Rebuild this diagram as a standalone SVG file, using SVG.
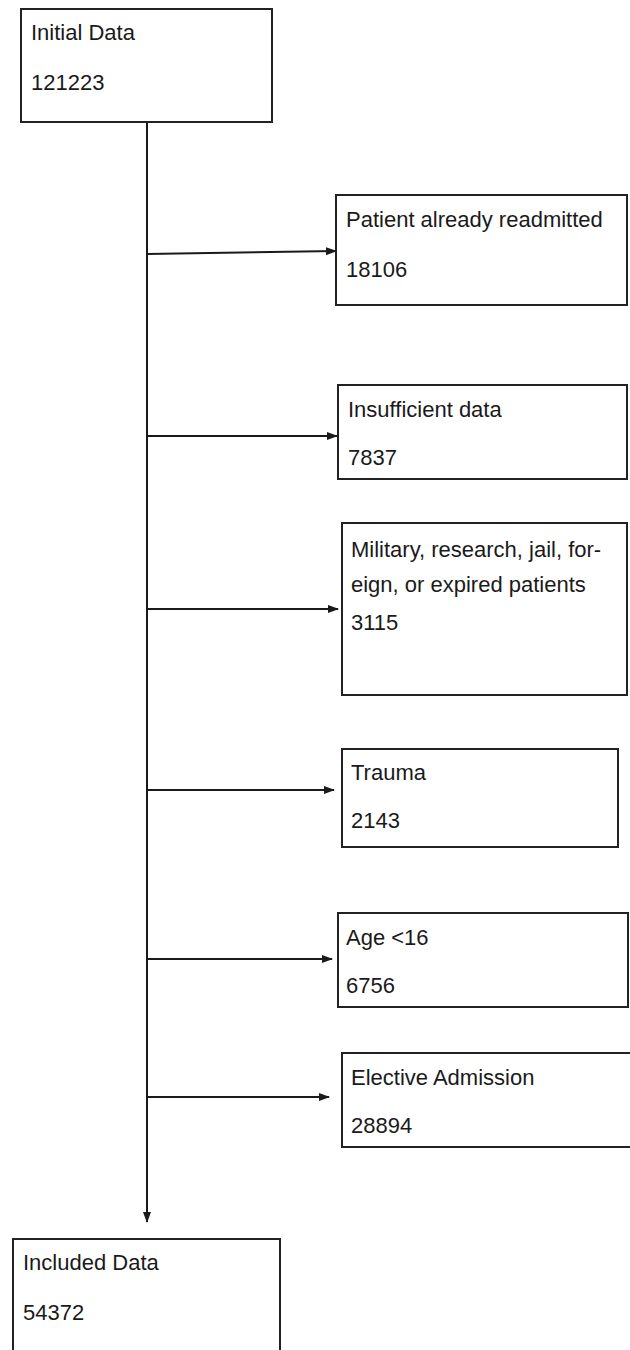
<svg xmlns="http://www.w3.org/2000/svg" width="630" height="1350" viewBox="0 0 630 1350">
<defs>
<marker id="ah" markerUnits="userSpaceOnUse" markerWidth="11" markerHeight="11" viewBox="0 0 11 11" refX="10" refY="5.5" orient="auto">
<path d="M0,1.5 L11,5.5 L0,9.5 Z" fill="#1a1a1a"/>
</marker>
</defs>
<style>
.box{fill:#fff;stroke:#222;stroke-width:2}
.t{font-family:"Liberation Sans",Arial,sans-serif;font-size:22px;fill:#1a1a1a}
.c{stroke:#1a1a1a;stroke-width:2;fill:none}
</style>
<rect width="630" height="1350" fill="#fff"/>
<g id="connectors">
<line class="c" x1="147" y1="122" x2="147" y2="1222" marker-end="url(#ah)"/>
<line class="c" x1="147" y1="254" x2="336" y2="251" marker-end="url(#ah)"/>
<line class="c" x1="147" y1="436" x2="337" y2="436" marker-end="url(#ah)"/>
<line class="c" x1="147" y1="609" x2="338" y2="609" marker-end="url(#ah)"/>
<line class="c" x1="147" y1="790" x2="334" y2="790" marker-end="url(#ah)"/>
<line class="c" x1="147" y1="959" x2="332" y2="959" marker-end="url(#ah)"/>
<line class="c" x1="147" y1="1097" x2="329" y2="1097" marker-end="url(#ah)"/>
</g>
<g id="initial">
<rect class="box" x="21" y="9" width="251" height="113"/>
<text class="t" x="31" y="40">Initial Data</text>
<text class="t" x="31" y="90">121223</text>
</g>
<g id="readmitted">
<rect class="box" x="336" y="195" width="291" height="110"/>
<text class="t" x="346" y="227">Patient already readmitted</text>
<text class="t" x="346" y="277">18106</text>
</g>
<g id="insufficient">
<rect class="box" x="338" y="385" width="289" height="94"/>
<text class="t" x="348" y="417">Insufficient data</text>
<text class="t" x="348" y="465">7837</text>
</g>
<g id="military">
<rect class="box" x="342" y="523" width="285" height="172"/>
<text class="t" x="351" y="557">Military, research, jail, for-</text>
<text class="t" x="351" y="592">eign, or expired patients</text>
<text class="t" x="351" y="630">3115</text>
</g>
<g id="trauma">
<rect class="box" x="342" y="749" width="276" height="98"/>
<text class="t" x="351" y="780">Trauma</text>
<text class="t" x="351" y="828">2143</text>
</g>
<g id="age">
<rect class="box" x="338" y="913" width="290" height="94"/>
<text class="t" x="346" y="945">Age &lt;16</text>
<text class="t" x="346" y="993">6756</text>
</g>
<g id="elective">
<rect class="box" x="342" y="1053" width="300" height="94"/>
<text class="t" x="351" y="1085">Elective Admission</text>
<text class="t" x="351" y="1133">28894</text>
</g>
<g id="included">
<rect class="box" x="13" y="1239" width="267" height="130"/>
<text class="t" x="23" y="1270">Included Data</text>
<text class="t" x="23" y="1320">54372</text>
</g>
</svg>
